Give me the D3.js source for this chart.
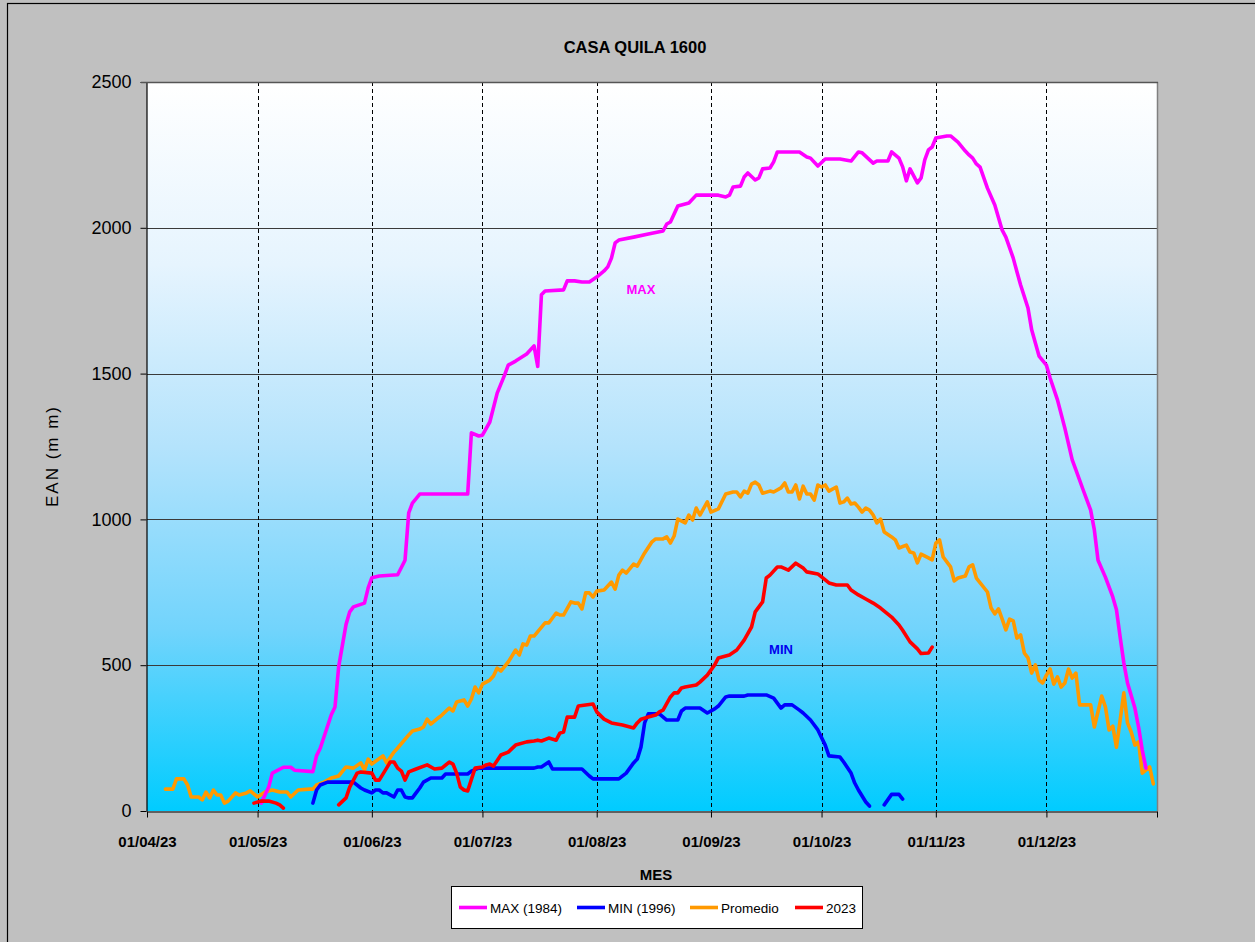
<!DOCTYPE html>
<html>
<head>
<meta charset="utf-8">
<script src="https://cdn.jsdelivr.net/npm/d3@7/dist/d3.min.js"></script>
<style>
  html, body { margin: 0; padding: 0; background: #c0c0c0; }
  svg { display: block; }
  text { font-family: Arial, "Liberation Sans", sans-serif; }
</style>
</head>
<body>
<svg id="chart" width="1255" height="942"></svg>
<script>
// ---------- DATA ----------
const titleText = "CASA QUILA 1600";
const yTicks = [0, 500, 1000, 1500, 2000, 2500];
const xTickLabels = ["01/04/23","01/05/23","01/06/23","01/07/23","01/08/23","01/09/23","01/10/23","01/11/23","01/12/23"];
const seriesNames = ["MAX (1984)", "MIN (1996)", "Promedio", "2023"];

const serieMax = [
 ["02/05",27],["04/05",82],["05/05",130],["08/05",150],["10/05",150],["11/05",140],["16/05",135],["17/05",190],
 ["18/05",215],["21/05",330],["22/05",357],["23/05",495],["25/05",640],["26/05",683],["27/05",700],["30/05",713],
 ["31/05",765],["01/06",800],["03/06",806],["08/06",810],["10/06",860],["11/06",1022],["12/06",1056],["14/06",1087],
 ["27/06",1087],["28/06",1297],["30/06",1286],["01/07",1289],["03/07",1334],["05/07",1433],["07/07",1495],["08/07",1529],
 ["10/07",1543],["13/07",1567],["15/07",1595],["16/07",1525],["17/07",1770],["18/07",1783],["23/07",1787],["24/07",1818],
 ["26/07",1818],["28/07",1814],["30/07",1814],["01/08",1831],["03/08",1852],["04/08",1866],["05/08",1896],["06/08",1948],
 ["07/08",1958],["11/08",1968],["15/08",1979],["19/08",1989],["20/08",2013],["21/08",2020],["23/08",2075],["26/08",2085],
 ["28/08",2112],["03/09",2112],["05/09",2106],["06/09",2112],["07/09",2140],["09/09",2143],["10/09",2174],["11/09",2188],
 ["13/09",2164],["14/09",2171],["15/09",2202],["17/09",2205],["18/09",2226],["19/09",2260],["25/09",2260],["27/09",2243],
 ["28/09",2239],["30/09",2212],["02/10",2236],["06/10",2236],["09/10",2229],["11/10",2260],["12/10",2257],["15/10",2222],
 ["16/10",2229],["19/10",2229],["20/10",2260],["22/10",2239],["23/10",2209],["24/10",2161],["25/10",2202],["27/10",2154],
 ["28/10",2171],["29/10",2233],["30/10",2267],["31/10",2277],["01/11",2308],["04/11",2315],["05/11",2315],["07/11",2294],
 ["09/11",2263],["10/11",2250],["11/11",2239],["12/11",2219],["13/11",2208],["15/11",2136],["17/11",2078],["19/11",1992],
 ["20/11",1968],["22/11",1896],["23/11",1849],["24/11",1804],["26/11",1725],["27/11",1650],["29/11",1560],["01/12",1529],
 ["02/12",1485],["04/12",1410],["06/12",1313],["08/12",1204],["09/12",1170],["11/12",1100],["13/12",1032],["14/12",964],
 ["15/12",860],["17/12",802],["19/12",734],["20/12",690],["21/12",597],["22/12",508],["23/12",439],["25/12",353],
 ["26/12",288],["27/12",209],["28/12",147]
];

const serieMin = [
 ["16/05",27],["17/05",72],["18/05",89],["20/05",99],["27/05",99],["29/05",79],["30/05",72],["01/06",62],["02/06",72],
 ["03/06",72],["04/06",62],["05/06",62],["07/06",48],["08/06",72],["09/06",72],["10/06",48],["11/06",45],["12/06",45],
 ["13/06",62],["14/06",79],["15/06",99],["17/06",113],["20/06",113],["21/06",127],["27/06",127],["28/06",137],["30/06",147],
 ["15/07",147],["16/07",151],["17/07",151],["19/07",168],["20/07",144],["28/07",144],["30/07",120],["31/07",110],
 ["07/08",110],["09/08",130],["11/08",165],["12/08",178],["13/08",219],["14/08",302],["15/08",333],["18/08",333],
 ["20/08",312],["23/08",312],["24/08",343],["25/08",353],["29/08",353],["31/08",336],["02/09",350],["03/09",360],
 ["05/09",391],["06/09",394],["10/09",394],["11/09",398],["16/09",398],["18/09",387],["20/09",353],["21/09",364],
 ["23/09",364],["25/09",346],["26/09",336],["28/09",312],["30/09",278],["02/10",226],["03/10",189],["06/10",185],
 ["07/10",168],["09/10",130],["10/10",96],["11/10",72],["13/10",31],["14/10",17],["15/10",null],["18/10",21],
 ["20/10",57],["22/10",57],["23/10",41]
];

const seriePromedio = [
 ["06/04",75],["08/04",75],["09/04",110],["11/04",110],["12/04",89],["13/04",48],["15/04",48],["16/04",38],["17/04",65],
 ["18/04",45],["19/04",72],["20/04",55],["21/04",55],["22/04",27],["23/04",34],["25/04",62],["26/04",55],["28/04",62],
 ["29/04",69],["01/05",48],["03/05",65],["05/05",72],["07/05",65],["09/05",65],["10/05",48],["12/05",72],["15/05",75],
 ["16/05",75],["17/05",89],["19/05",99],["21/05",113],["23/05",120],["25/05",151],["27/05",147],["29/05",165],["30/05",141],
 ["31/05",178],["01/06",161],["04/06",189],["05/06",165],["07/06",202],["08/06",216],["11/06",261],["12/06",274],["14/06",281],
 ["15/06",288],["16/06",315],["17/06",298],["19/06",319],["20/06",329],["22/06",353],["23/06",343],["24/06",374],["26/06",381],
 ["27/06",360],["28/06",384],["29/06",425],["30/06",405],["01/07",435],["03/07",449],["04/07",463],["05/07",490],["06/07",480],
 ["08/07",511],["10/07",552],["11/07",535],["12/07",573],["13/07",569],["14/07",600],["15/07",600],["18/07",645],["19/07",645],
 ["20/07",662],["21/07",679],["22/07",672],["23/07",672],["25/07",717],["26/07",713],["27/07",713],["28/07",693],["29/07",748],
 ["30/07",748],["31/07",734],["01/08",754],["03/08",758],["05/08",785],["06/08",761],["07/08",809],["08/08",826],["09/08",816],
 ["11/08",847],["12/08",840],["14/08",885],["16/08",923],["17/08",933],["19/08",933],["20/08",940],["21/08",919],["22/08",943],
 ["23/08",1001],["25/08",988],["26/08",1015],["27/08",998],["28/08",1039],["29/08",1015],["31/08",1060],["01/09",1025],
 ["03/09",1036],["05/09",1087],["07/09",1094],["08/09",1094],["09/09",1077],["10/09",1097],["11/09",1090],["12/09",1121],
 ["13/09",1128],["14/09",1118],["15/09",1090],["17/09",1097],["18/09",1094],["20/09",1108],["21/09",1125],["22/09",1094],
 ["23/09",1094],["24/09",1118],["25/09",1070],["26/09",1114],["27/09",1087],["28/09",1087],["29/09",1066],["30/09",1118],
 ["01/10",1111],["02/10",1118],["03/10",1097],["05/10",1111],["06/10",1056],["07/10",1060],["08/10",1073],["09/10",1053],
 ["10/10",1056],["11/10",1042],["12/10",1025],["13/10",1039],["14/10",1032],["15/10",1015],["16/10",988],["17/10",1001],
 ["18/10",957],["20/10",940],["21/10",930],["22/10",902],["24/10",912],["25/10",888],["26/10",885],["27/10",851],["28/10",881],
 ["30/10",868],["31/10",861],["01/11",919],["02/11",930],["03/11",871],["05/11",837],["06/11",789],["07/11",799],["09/11",806],
 ["10/11",837],["11/11",844],["12/11",799],["15/11",751],["16/11",696],["17/11",676],["18/11",693],["19/11",658],["20/11",621],
 ["21/11",658],["22/11",652],["23/11",593],["24/11",604],["25/11",542],["26/11",525],["27/11",473],["28/11",501],["29/11",449],
 ["30/11",439],["01/12",466],["02/12",487],["03/12",435],["04/12",460],["05/12",425],["06/12",439],["07/12",487],["08/12",456],
 ["09/12",473],["10/12",364],["13/12",364],["14/12",288],["16/12",394],["17/12",357],["18/12",278],["19/12",291],["20/12",219],
 ["22/12",405],["23/12",302],["24/12",271],["25/12",226],["26/12",237],["27/12",130],["29/12",151],["30/12",93]
];

const serie2023 = [
 ["30/04",27],["02/05",34],["04/05",34],["06/05",27],["07/05",21],["08/05",10],["09/05",null],
 ["23/05",21],["25/05",45],["26/05",82],["28/05",130],["29/05",134],["01/06",130],["02/06",106],["03/06",106],["05/06",147],
 ["06/06",168],["07/06",168],["08/06",147],["09/06",137],["10/06",106],["11/06",134],["13/06",144],["16/06",158],["18/06",144],
 ["20/06",147],["22/06",168],["23/06",161],["24/06",130],["25/06",82],["26/06",72],["27/06",69],["29/06",147],["01/07",151],
 ["02/07",158],["03/07",161],["04/07",154],["06/07",192],["08/07",202],["10/07",226],["13/07",237],["15/07",240],["16/07",243],
 ["17/07",240],["19/07",250],["21/07",243],["22/07",267],["23/07",271],["24/07",322],["26/07",322],["27/07",360],["31/07",367],
 ["01/08",340],["03/08",315],["05/08",302],["08/08",295],["11/08",285],["12/08",302],["13/08",315],["15/08",322],["17/08",329],
 ["18/08",340],["19/08",346],["21/08",391],["22/08",405],["23/08",405],["24/08",422],["25/08",425],["28/08",432],["29/08",442],
 ["31/08",466],["02/09",501],["03/09",525],["06/09",535],["08/09",552],["10/09",586],["12/09",631],["13/09",683],["14/09",700],
 ["15/09",717],["16/09",799],["17/09",809],["19/09",837],["20/09",837],["22/09",826],["24/09",850],["26/09",833],["27/09",820],
 ["30/09",813],["03/10",782],["05/10",775],["08/10",775],["09/10",758],["11/10",741],["13/10",727],["15/10",713],["17/10",696],
 ["20/10",665],["22/10",638],["23/10",620],["25/10",580],["27/10",556],["28/10",540],["30/10",542],["31/10",562]
];

const seriesColors = ["#FF00FF", "#0000FF", "#FF9900", "#FF0000"];

// ---------- LAYOUT ----------
const svg = d3.select("#chart");
const W = 1255, H = 942;
const plot = { left: 147, right: 1157, top: 82, bottom: 811 };

// outer chart frame
svg.append("rect").attr("x", 0).attr("y", 0).attr("width", W).attr("height", H).attr("fill", "#c0c0c0");
svg.append("rect").attr("x", 7.5).attr("y", 3.5).attr("width", W).attr("height", H)
  .attr("fill", "none").attr("stroke", "#000").attr("stroke-width", 1.2);

const parse = d3.timeParse("%d/%m/%Y");
const toDate = s => parse(s + "/2023");

const x = d3.scaleTime()
  .domain([parse("01/04/2023"), parse("31/12/2023")])
  .range([plot.left, plot.right]);
const y = d3.scaleLinear().domain([0, 2500]).range([plot.bottom, plot.top]);

// gradient background
const defs = svg.append("defs");
const grad = defs.append("linearGradient").attr("id", "bg").attr("x1", 0).attr("y1", 0).attr("x2", 0).attr("y2", 1);
[["0%", "#ffffff"], ["25%", "#e6f4fe"], ["50%", "#b4e3fc"], ["75%", "#72d4fc"], ["100%", "#00ccff"]]
  .forEach(s => grad.append("stop").attr("offset", s[0]).attr("stop-color", s[1]));
svg.append("rect").attr("x", plot.left).attr("y", plot.top)
  .attr("width", plot.right - plot.left).attr("height", plot.bottom - plot.top)
  .attr("fill", "url(#bg)");

// horizontal grid
svg.append("g").selectAll("line").data(yTicks.filter(v => v > 0)).join("line")
  .attr("x1", plot.left).attr("x2", plot.right)
  .attr("y1", d => Math.round(y(d)) + 0.5).attr("y2", d => Math.round(y(d)) + 0.5)
  .attr("stroke", "#3a3a3a").attr("stroke-width", 1.2);

// vertical dashed grid
const xTickDates = xTickLabels.map(s => parse(s.slice(0, 6) + "20" + s.slice(6)));
const vGridDates = xTickDates.slice(1);
svg.append("g").selectAll("line").data(vGridDates).join("line")
  .attr("x1", d => Math.round(x(d)) + 0.5).attr("x2", d => Math.round(x(d)) + 0.5)
  .attr("y1", plot.top).attr("y2", plot.bottom)
  .attr("stroke", "#000").attr("stroke-width", 1).attr("stroke-dasharray", "4,3");

// right border
svg.append("line").attr("x1", plot.right + 0.5).attr("x2", plot.right + 0.5)
  .attr("y1", plot.top).attr("y2", plot.bottom).attr("stroke", "#808080").attr("stroke-width", 1.5);

// series lines
const line = d3.line()
  .defined(d => d[1] !== null)
  .x(d => x(toDate(d[0])))
  .y(d => y(d[1]))
  .curve(d3.curveLinear);

const allSeries = [serieMax, serieMin, seriePromedio, serie2023];
const drawOrder = [2, 0, 1, 3];
const gLines = svg.append("g");
drawOrder.forEach(i => {
  gLines.append("path").datum(allSeries[i])
    .attr("fill", "none").attr("stroke", seriesColors[i]).attr("stroke-width", 3.6)
    .attr("stroke-linejoin", "round").attr("stroke-linecap", "round")
    .attr("d", line);
});

// y axis
const yAxis = d3.axisLeft(y).tickValues(yTicks).tickFormat(d3.format("d"))
  .tickSize(6).tickSizeOuter(0).tickPadding(9);
const gy = svg.append("g").attr("transform", `translate(${plot.left - 0.5},0)`).call(yAxis);
gy.select(".domain").attr("stroke", "#000").attr("stroke-width", 1.2);
gy.selectAll(".tick line").attr("stroke", "#000");
gy.selectAll(".tick text").attr("font-size", 18).attr("fill", "#000")
  .attr("font-family", "Arial, 'Liberation Sans', sans-serif");

// x axis
const xAxis = d3.axisBottom(x).tickValues(xTickDates.concat([parse("31/12/2023")]))
  .tickFormat((d, i) => i < xTickLabels.length ? xTickLabels[i] : "")
  .tickSize(6).tickSizeOuter(0).tickPadding(19);
const gx = svg.append("g").attr("transform", `translate(0,${plot.bottom + 0.5})`).call(xAxis);
gx.select(".domain").attr("stroke", "#000").attr("stroke-width", 1.2);
gx.selectAll(".tick line").attr("stroke", "#000");
gx.selectAll(".tick text").attr("font-size", 15).attr("font-weight", "bold").attr("fill", "#000")
  .attr("font-family", "Arial, 'Liberation Sans', sans-serif");

// top border line of plot
svg.append("line").attr("x1", plot.left - 6).attr("x2", plot.right + 1)
  .attr("y1", plot.top + 0.5).attr("y2", plot.top + 0.5)
  .attr("stroke", "#555").attr("stroke-width", 1.5);

// title
svg.append("text").attr("x", 635).attr("y", 53).attr("text-anchor", "middle")
  .attr("font-size", 16.5).attr("font-weight", "bold").attr("fill", "#000").text(titleText);

// axis titles
svg.append("text").attr("x", 656).attr("y", 880).attr("text-anchor", "middle")
  .attr("font-size", 15).attr("font-weight", "bold").attr("fill", "#000").text("MES");
svg.append("text").attr("transform", "translate(58,456) rotate(-90)").attr("text-anchor", "middle")
  .attr("font-size", 17).attr("letter-spacing", 2).attr("fill", "#000").text("EAN (m m)");

// annotations
svg.append("text").attr("x", x(parse("13/08/2023"))).attr("y", 294).attr("text-anchor", "middle")
  .attr("font-size", 13).attr("font-weight", "bold").attr("fill", "#FF00FF").text("MAX");
svg.append("text").attr("x", x(parse("20/09/2023"))).attr("y", 654).attr("text-anchor", "middle")
  .attr("font-size", 13).attr("font-weight", "bold").attr("fill", "#0000EE").text("MIN");

// legend
const lg = svg.append("g");
lg.append("rect").attr("x", 451.5).attr("y", 886.5).attr("width", 411).attr("height", 42)
  .attr("fill", "#fff").attr("stroke", "#000").attr("stroke-width", 1);
const legendX = [459, 577, 690, 795];
seriesNames.forEach((name, i) => {
  lg.append("line").attr("x1", legendX[i]).attr("x2", legendX[i] + 28)
    .attr("y1", 907.5).attr("y2", 907.5).attr("stroke", seriesColors[i]).attr("stroke-width", 3.6);
  lg.append("text").attr("x", legendX[i] + 31).attr("y", 912.5)
    .attr("font-size", 13.5).attr("fill", "#000").text(name);
});
</script>
</body>
</html>
